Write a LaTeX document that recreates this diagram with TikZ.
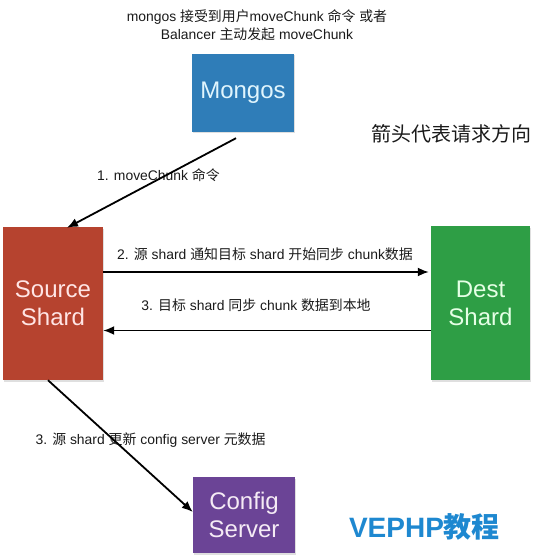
\documentclass[tikz,border=0pt]{standalone}
\usepackage{fontspec}
\setmainfont{Liberation Sans}
\newfontfamily\cjk{Noto Sans CJK SC}
\usetikzlibrary{arrows.meta,calc,shadows}
\definecolor{mblue}{HTML}{2F7DB8}
\definecolor{mred}{HTML}{B6432F}
\definecolor{mgreen}{HTML}{2E9E45}
\definecolor{mpurple}{HTML}{6B4496}
\definecolor{wmark}{HTML}{1E88D0}
\definecolor{ink}{HTML}{1A1A1A}
\tikzset{
  boxnode/.style={inner sep=0pt, align=center, font=\fontsize{24}{28}\selectfont,
    drop shadow={shadow xshift=1pt, shadow yshift=-1.5pt, opacity=0.25}},
  lbl/.style={inner sep=0pt, align=center, text=ink, font=\fontsize{13.9}{18.6}\selectfont},
  conn/.style={line width=1.8pt, -{Latex[length=11pt,width=9pt]}}
}
\begin{document}
\begin{tikzpicture}[x=1pt,y=-1pt]
\useasboundingbox (0,0) rectangle (537,556);
\node[boxnode, fill=mblue, text=cyan!12, minimum width=102pt, minimum height=78pt] (mongos) at (243,93) {Mongos};
\node[boxnode, fill=mred, text=red!10, minimum width=100pt, minimum height=153pt] (source) at (53,303.5) {Source\\Shard};
\node[boxnode, fill=mgreen, text=green!10, minimum width=99pt, minimum height=154pt] (dest) at (480.5,303) {Dest\\Shard};
\node[boxnode, fill=mpurple, text=violet!8, minimum width=102pt, minimum height=76pt] (config) at (244,515) {Config\\Server};

\node[lbl] (top) at (257,25) {mongos {\cjk 接受到用户}moveChunk {\cjk 命令} {\cjk 或者}\\Balancer {\cjk 主动发起} moveChunk};
\node[inner sep=0pt, text=ink, font=\cjk\fontsize{20}{23}\selectfont] (legend) at (451,134) {箭头代表请求方向};
\node[lbl] (l1) at (158.5,175) {1. moveChunk {\cjk 命令}};
\node[lbl] (l2) at (265,254) {2. {\cjk 源} shard {\cjk 通知目标} shard {\cjk 开始同步} chunk{\cjk 数据}};
\node[lbl] (l3) at (256,305.6) {3. {\cjk 目标} shard {\cjk 同步} chunk {\cjk 数据到本地}};
\node[lbl] (l4) at (150.5,440) {3. {\cjk 源} shard {\cjk 更新} config server {\cjk 元数据}};
\node[inner sep=0pt, text=wmark, font=\fontsize{28}{31}\selectfont\bfseries] (wm) at (424.5,527) {VEPHP{\cjk\bfseries 教程}};

\draw[conn] ($(mongos.south)+(-7,6)$) -- ($(source.north)+(14,1)$);
\draw[conn] ($(source.east)+(0,-31.5)$) -- ($(dest.west)+(-2,-31)$);
\draw[conn] ($(dest.west)+(0,27.5)$) -- ($(source.east)+(0,27)$);
\draw[conn] ($(source.south)+(-5,0)$) -- ($(config.west)+(0,-3)$);
\end{tikzpicture}
\end{document}
